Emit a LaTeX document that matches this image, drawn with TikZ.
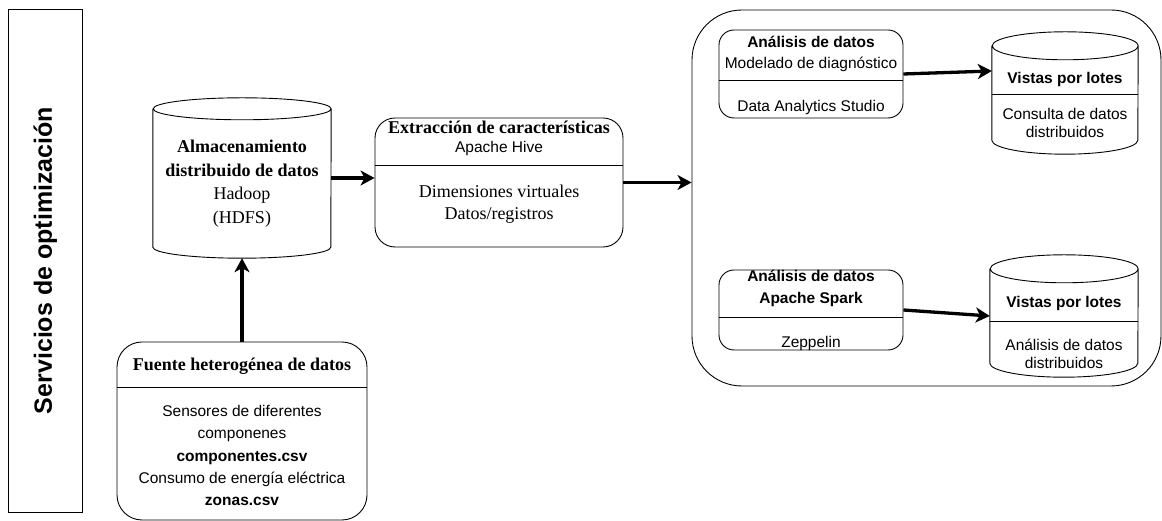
\documentclass[tikz,border=0pt]{standalone}
\usepackage{fontspec}
\setmainfont{Liberation Serif}
\setsansfont{Liberation Sans}
\usetikzlibrary{arrows.meta}

% outline of a database drum around node #1 (x radius #2, y radius #3)
\newcommand\drumline[3]{%
  \draw[line width=0.9pt] ([yshift=-#3]#1.north west) -- ([yshift=#3]#1.south west)
    arc[start angle=180, end angle=360, x radius=#2, y radius=#3]
    -- ([yshift=-#3]#1.north east)
    arc[start angle=0, end angle=360, x radius=#2, y radius=#3];}

\begin{document}
\begin{tikzpicture}[x=1pt, y=1pt, >={Stealth[length=14pt, width=15pt, inset=4pt]},
    every node/.style={inner sep=0pt},
    panel/.style={draw, line width=0.9pt},
    drum/.style={inner sep=0pt},
    flow/.style={->, line width=3.3pt},
    ser/.style={font=\fontsize{18}{24}\selectfont, align=center},
    serb/.style={font=\bfseries\fontsize{18}{24}\selectfont, align=center},
    san/.style={font=\sffamily\fontsize{15.5}{18.5}\selectfont, align=center},
    sanb/.style={font=\sffamily\bfseries\fontsize{15.5}{22}\selectfont, align=center}]
    \useasboundingbox (0,0) rectangle (1162,521);

    % side label
    \node[panel, rotate=90, minimum width=503pt, minimum height=74pt,
        font=\sffamily\bfseries\fontsize{25}{30}\selectfont] (servicios) at (45.25,260.5)
        {Servicios de optimización};

    % storage
    \node[drum, minimum width=178pt, minimum height=160pt] (hdfs) at (242,343) {};
    \drumline{hdfs}{89pt}{11pt}
    \node[serb] (hdfs-t) at (242,362.5) {Almacenamiento\\distribuido de datos};
    \node[ser] (hdfs-b) at (242,314) {Hadoop\\(HDFS)};

    % data source
    \node[panel, rounded corners=25pt, minimum width=250pt, minimum height=178pt] (fuente) at (242,90) {};
    \node[serb] (fuente-t) at (242,155) {Fuente heterogénea de datos};
    \draw[panel] (fuente.west |- 0,134) -- (fuente.east |- 0,134);
    \node[san, font=\sffamily\fontsize{15.5}{22.2}\selectfont] (fuente-b) at (242,65.5)
        {Sensores de diferentes\\componenes\\\textbf{componentes.csv}\\Consumo de energía eléctrica\\\textbf{zonas.csv}};

    % feature extraction
    \node[panel, rounded corners=20pt, minimum width=248pt, minimum height=129pt] (extr) at (499,338.5) {};
    \node[serb] (extr-t) at (499,394) {Extracción de características};
    \node[san] (extr-s) at (499,372) {Apache Hive};
    \draw[panel] (extr.west |- 0,356) -- (extr.east |- 0,356);
    \node[ser, font=\fontsize{18}{22}\selectfont] (extr-b) at (499,317) {Dimensiones virtuales\\Datos/registros};

    % analytics container
    \node[panel, rounded corners=50pt, minimum width=469pt, minimum height=376pt] (cont) at (926.5,323) {};

    \node[panel, rounded corners=15pt, minimum width=184pt, minimum height=88pt] (an1) at (811,447) {};
    \node[sanb] (an1-t) at (811,479) {Análisis de datos};
    \node[san] (an1-s) at (811,457) {Modelado de diagnóstico};
    \draw[panel] (an1.west |- 0,441) -- (an1.east |- 0,441);
    \node[san] (an1-b) at (811,413) {Data Analytics Studio};

    \node[panel, rounded corners=15pt, minimum width=184pt, minimum height=80pt] (an2) at (811,211) {};
    \node[sanb] (an2-t) at (811,233) {Análisis de datos\\Apache Spark};
    \draw[panel] (an2.west |- 0,204) -- (an2.east |- 0,204);
    \node[san] (an2-b) at (811,178) {Zeppelin};

    \node[drum, minimum width=146pt, minimum height=122pt] (vl1) at (1065,428) {};
    \drumline{vl1}{73pt}{14pt}
    \node[sanb] (vl1-t) at (1065,441) {Vistas por lotes};
    \draw[panel] (vl1.west |- 0,427) -- (vl1.east |- 0,427);
    \node[san] (vl1-b) at (1065,398) {Consulta de datos\\distribuidos};

    \node[drum, minimum width=148pt, minimum height=122pt] (vl2) at (1064,205) {};
    \drumline{vl2}{74pt}{14pt}
    \node[sanb] (vl2-t) at (1064,218) {Vistas por lotes};
    \draw[panel] (vl2.west |- 0,200) -- (vl2.east |- 0,200);
    \node[san] (vl2-b) at (1064,167) {Análisis de datos\\distribuidos};

    % connectors
    \draw[flow] (fuente.north) -- (hdfs.south);
    \draw[flow] (hdfs.east) -- (hdfs.east -| extr.west);
    \draw[flow] (extr.east) -- (extr.east -| cont.west);
    \draw[flow] (an1.east) -- ([yshift=3pt]vl1.west |- an1.east);
    \draw[flow] (an2.east) -- (vl2.west);
\end{tikzpicture}
\end{document}
